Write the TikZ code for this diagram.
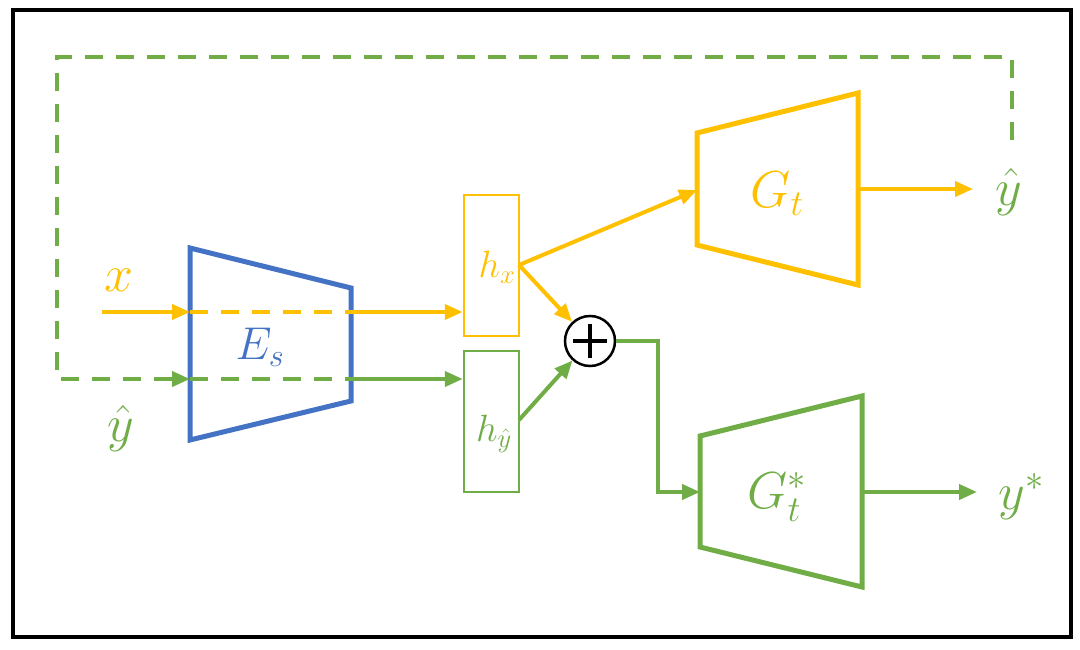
\RequirePackage{fix-cm}
\documentclass[tikz,border=0pt]{standalone}
\usetikzlibrary{arrows.meta}
\definecolor{cyel}{HTML}{FFC000}
\definecolor{cgrn}{HTML}{70AD47}
\definecolor{cblu}{HTML}{4472C4}
\begin{document}
\begin{tikzpicture}[x=1pt,y=-1pt,
  arr/.style={-{Triangle[length=18pt,width=15pt]}, line width=4pt},
  dsh/.style={dash pattern=on 18pt off 13pt, line width=4pt},
  trap/.style={line width=5pt, line join=miter},
  hbox/.style={draw, line width=2.5pt, minimum width=55pt, minimum height=141pt, inner sep=0pt},
  big/.style={inner sep=0pt, font=\fontsize{52}{56}\selectfont},
  mid/.style={inner sep=0pt, font=\fontsize{46}{50}\selectfont},
  sml/.style={inner sep=0pt, font=\fontsize{38}{42}\selectfont}]
\useasboundingbox (0,0) rectangle (1080,650);
\draw[line width=3.5pt] (13,10) rectangle (1071,637);

% encoder E_s
\draw[cblu, trap] (190,248) -- (351,288) -- (351,401) -- (190,440) -- cycle;
\node[mid, text=cblu] (es) at (260,347) {$E_s$};
\coordinate (esxi) at (190,312);
\coordinate (esxo) at (351,312);
\coordinate (esyi) at (190,379);
\coordinate (esyo) at (351,379);

% h boxes
\node[hbox, draw=cyel] (hx) at (491.5,265.5) {};
\node[hbox, draw=cgrn] (hy) at (491.5,421.5) {};
\node[sml, text=cyel] (hxl) at (497,267) {$h_x$};
\node[sml, text=cgrn] (hyl) at (494,434) {$h_{\hat{y}}$};

% sum
\node[circle, draw, line width=2.5pt, minimum size=50pt, inner sep=0pt] (plus) at (590,341) {};
\draw[line width=3.5pt] ([xshift=-17pt]plus.center) -- ([xshift=17pt]plus.center);
\draw[line width=3.5pt] ([yshift=-17pt]plus.center) -- ([yshift=17pt]plus.center);

% decoder G_t
\draw[cyel, trap] (697,133) -- (858,93) -- (858,285) -- (697,245) -- cycle;
\node[big, text=cyel] (gt) at (777,194) {$G_t$};
\coordinate (gtin) at (697,190);
\coordinate (gtout) at (858,189);
\node[big, text=cgrn] (yhr) at (1009,192) {$\hat{y}$};
\coordinate (loopstart) at (1012,140);

% decoder G_t^*
\draw[cgrn, trap] (700,436) -- (862,396) -- (862,587) -- (700,547) -- cycle;
\node[big, text=cgrn] (gts) at (777,497) {$G_t^*$};
\coordinate (gsin) at (700,492);
\coordinate (gsout) at (862,492);
\node[big, text=cgrn] (ys) at (1021,497) {$y^*$};

% inputs
\node[big, text=cyel] (xl) at (119,280) {$x$};
\node[big, text=cgrn] (yhl) at (121,428) {$\hat{y}$};
\coordinate (xin) at (102,312);

% connectors
\draw[arr, cyel] (xin) -- (esxi);
\draw[dsh, cyel] (esxi) -- (esxo);
\draw[arr, cyel] (esxo) -- (hx.west |- esxo);

\draw[dsh, cgrn, line join=miter] (loopstart) -- (1012,57) -- (57,57) -- (57,379) -- (172,379);
\draw[arr, cgrn] (170,379) -- (esyi);
\draw[dsh, cgrn] (esyi) -- (esyo);
\draw[arr, cgrn] (esyo) -- (hy.west |- esyo);

\draw[arr, cyel] (519,265) -- (gtin);
\draw[arr, cyel] (519,265) -- (plus);
\draw[arr, cgrn] (519,420) -- (plus);
\draw[arr, cgrn, line join=miter] (plus.east) -- (658,341) -- (658,492) -- (gsin);

\draw[arr, cyel] (gtout) -- (973,189);
\draw[arr, cgrn] (gsout) -- (977,492);
\end{tikzpicture}
\end{document}
